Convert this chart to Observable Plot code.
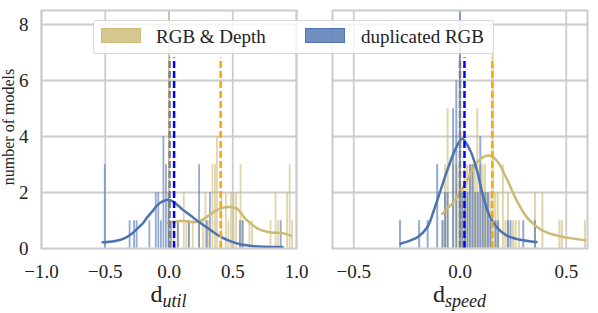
<!DOCTYPE html>
<html><head><meta charset="utf-8">
<script src="https://cdn.jsdelivr.net/npm/d3@7"></script>
<script src="https://cdn.jsdelivr.net/npm/@observablehq/plot@0.6"></script>
<style>
body{margin:0;background:#fff;}
#wrap{position:relative;width:598px;height:313px;overflow:hidden;font-family:'Liberation Serif','DejaVu Serif',serif;color:#222;}
.panel{position:absolute;top:0;}
#legend{position:absolute;left:93px;top:20px;width:401px;height:34px;box-sizing:border-box;background:rgba(255,255,255,0.8);border:1px solid #d6d6d6;border-radius:3px;z-index:5;}
.patch{position:absolute;top:7px;width:40px;height:15px;box-sizing:border-box;}
.ltext{position:absolute;top:5px;font-size:19px;line-height:22px;white-space:nowrap;}
</style>
</head><body>
<div id="wrap">
  <div id="left" class="panel"></div>
  <div id="right" class="panel" style="left:300px"></div>
  <div id="legend">
    <div class="patch" style="left:7px;background:rgba(204,185,116,0.8);border:1px solid rgba(204,185,116,0.9)"></div>
    <div class="ltext" style="left:62px">RGB &amp; Depth</div>
    <div class="patch" style="left:211px;background:rgba(76,114,176,0.8);border:1px solid rgba(76,114,176,0.9)"></div>
    <div class="ltext" style="left:267px">duplicated RGB</div>
  </div>
</div>
<script>
// ---------- data ----------
const TAN = "#CCB974", BLUE = "#4C72B0";
const utilBinWidth = 0.018, speedBinWidth = 0.0118;

// d_util histograms (bin centre, count)
const utilDepthX = [0.005, 0.04, 0.07, 0.12, 0.14, 0.16, 0.19, 0.24, 0.27, 0.29, 0.31, 0.345, 0.365, 0.38, 0.415, 0.45, 0.47, 0.49, 0.51, 0.53, 0.565, 0.585, 0.635, 0.655, 0.80, 0.84, 0.86, 0.93, 0.95, 0.97];
const utilDepthC = [10, 1, 1, 2, 1, 1, 1, 1, 1, 2, 1, 3, 3, 4, 2, 2, 1, 2, 2, 2, 3, 1, 1, 1, 1, 2, 1, 2, 3, 1];
const utilDupX = [-0.50, -0.305, -0.27, -0.25, -0.15, -0.10, -0.08, -0.06, -0.04, -0.02, 0.0, 0.02, 0.075, 0.16, 0.24, 0.30, 0.325, 0.56, 0.58, 0.88];
const utilDupC = [3, 1, 1, 1, 1, 2, 2, 1, 4, 3, 2, 1, 1, 1, 3, 1, 2, 1, 1, 1];

// d_speed histograms (bin centre, count)
const speedDepthX = [-0.08, -0.068, -0.056, -0.03, -0.015, 0.0, 0.012, 0.024, 0.036, 0.048, 0.06, 0.072, 0.084, 0.096, 0.108, 0.12, 0.132, 0.144, 0.156, 0.168, 0.18, 0.204, 0.216, 0.228, 0.252, 0.264, 0.28, 0.355, 0.39, 0.47, 0.482, 0.59];
const speedDepthC = [1, 3, 5, 3, 3, 3, 2, 3, 3, 3, 3, 3, 5, 3, 3, 3, 2, 2, 7, 2, 2, 3, 1, 2, 1, 1, 1, 2, 2, 1, 1, 1];
const speedDupX = [-0.28, -0.19, -0.15, -0.105, -0.08, -0.068, -0.056, -0.03, -0.015, 0.002, 0.014, 0.026, 0.038, 0.05, 0.062, 0.074, 0.086, 0.098, 0.11, 0.122, 0.134, 0.146, 0.17, 0.182, 0.228, 0.24, 0.30, 0.355];
const speedDupC = [1, 1, 1, 3, 1, 2, 2, 5, 6, 10, 2, 2, 2, 3, 3, 2, 2, 4, 2, 2, 2, 1, 1, 1, 1, 1, 1, 1];

// KDE curves
const utilDepthKdeX = [-0.014, 0.04, 0.09, 0.14, 0.195, 0.24, 0.273, 0.31, 0.35, 0.40, 0.456, 0.49, 0.535, 0.595, 0.65, 0.70, 0.75, 0.80, 0.85, 0.90, 0.958];
const utilDepthKdeY = [0.9, 0.95, 0.98, 0.97, 0.94, 0.98, 1.06, 1.18, 1.3, 1.42, 1.48, 1.48, 1.42, 1.08, 0.86, 0.70, 0.62, 0.57, 0.56, 0.54, 0.45];
const utilDupKdeX = [-0.52, -0.43, -0.355, -0.30, -0.25, -0.20, -0.17, -0.13, -0.093, -0.05, -0.009, 0.03, 0.064, 0.11, 0.169, 0.23, 0.30, 0.39, 0.47, 0.56, 0.65, 0.75, 0.89];
const utilDupKdeY = [0.22, 0.26, 0.35, 0.5, 0.70, 0.93, 1.12, 1.33, 1.54, 1.68, 1.74, 1.68, 1.56, 1.38, 1.18, 0.96, 0.74, 0.46, 0.28, 0.15, 0.09, 0.06, 0.05];
const speedDepthKdeX = [-0.084, -0.05, -0.013, 0.034, 0.08, 0.134, 0.173, 0.22, 0.267, 0.314, 0.354, 0.394, 0.457, 0.52, 0.59];
const speedDepthKdeY = [1.24, 1.5, 1.83, 2.43, 3.08, 3.32, 3.14, 2.49, 1.71, 1.12, 0.82, 0.62, 0.46, 0.37, 0.29];
const speedDupKdeX = [-0.28, -0.233, -0.2, -0.154, -0.123, -0.092, -0.06, -0.021, 0.01, 0.048, 0.08, 0.11, 0.142, 0.173, 0.22, 0.283, 0.36];
const speedDupKdeY = [0.17, 0.29, 0.4, 0.76, 1.36, 2.07, 2.79, 3.56, 3.92, 3.5, 2.79, 1.83, 1.12, 0.76, 0.46, 0.31, 0.23];

// reference lines (x position, colour)
const utilRefX = [0.005, 0.04, 0.405];
const speedRefX = [0.0, 0.021, 0.152];
const refColors = ["#808080", "#0000ff", "#ffa500"];
const refTop = 6.8;

const utilTicks = [-1.0, -0.5, 0.0, 0.5, 1.0];
const speedTicks = [-0.5, 0.0, 0.5];
const yTicks = [0, 2, 4, 6, 8];
const yLabel = "number of models";

// ---------- drawing ----------
const FONT = "'Liberation Serif','DejaVu Serif',serif";
const rows = (xs, cs) => xs.map((x, i) => ({x, c: cs[i]}));
const pts = (xs, ys) => xs.map((x, i) => ({x, y: ys[i]}));

function panel(o) {
  const w = o.binW;
  const barOpts = (fill) => ({x1: d => d.x - w / 2, x2: d => d.x + w / 2, y: "c", fill, fillOpacity: 0.6, inset: 0.25, clip: true});
  const refs = o.refX.map((x, i) => Plot.ruleX([x], {y1: 0, y2: refTop, stroke: refColors[i], strokeWidth: 2.5, strokeDasharray: "7,3"}));
  const svg = Plot.plot({
    width: o.width, height: 313,
    marginTop: 10, marginBottom: 65, marginLeft: o.ml, marginRight: o.mr,
    style: {fontFamily: FONT, fontSize: "19px", color: "#222", background: "transparent", overflow: "visible"},
    x: {domain: o.domain, ticks: o.ticks, tickFormat: d3.format(".1f"), label: null, tickSize: 0, tickPadding: 16},
    y: {domain: [0, 8.5], ticks: yTicks, label: null, tickSize: 0, tickPadding: 13, axis: o.showY ? "left" : null},
    marks: [
      Plot.gridX(o.ticks, {stroke: "#cccccc", strokeOpacity: 1, strokeWidth: 1.8}),
      Plot.gridY(yTicks.slice(1), {stroke: "#cccccc", strokeOpacity: 1, strokeWidth: 1.8}),
      Plot.rectY(rows(o.depthX, o.depthC), barOpts(TAN)),
      Plot.rectY(rows(o.dupX, o.dupC), barOpts(BLUE)),
      Plot.line(pts(o.depthKX, o.depthKY), {x: "x", y: "y", stroke: TAN, strokeWidth: 2.5, curve: "catmull-rom"}),
      Plot.line(pts(o.dupKX, o.dupKY), {x: "x", y: "y", stroke: BLUE, strokeWidth: 2.5, curve: "catmull-rom"}),
      ...refs,
      Plot.frame({stroke: "#cccccc", strokeWidth: 2})
    ]
  });
  const sel = d3.select(svg);
  const cx = o.ml + (o.width - o.ml - o.mr) / 2;
  const t = sel.append("text")
    .attr("x", cx).attr("y", 302).attr("text-anchor", "middle")
    .attr("fill", "#222").style("font-family", FONT);
  t.append("tspan").text("d").style("font-size", "24px");
  t.append("tspan").text(o.sub).attr("dy", 5).style("font-size", "18px").style("font-style", "italic");
  if (o.showY) {
    sel.append("text")
      .attr("transform", "translate(14,127) rotate(-90)")
      .attr("text-anchor", "middle").attr("fill", "#222")
      .style("font-family", FONT).style("font-size", "16px")
      .text(yLabel);
  }
  return svg;
}

document.getElementById("left").appendChild(panel({
  width: 300, ml: 41, mr: 4, domain: [-1, 1], ticks: utilTicks, binW: utilBinWidth, showY: true,
  depthX: utilDepthX, depthC: utilDepthC, dupX: utilDupX, dupC: utilDupC,
  depthKX: utilDepthKdeX, depthKY: utilDepthKdeY, dupKX: utilDupKdeX, dupKY: utilDupKdeY,
  refX: utilRefX, sub: "util"
}));
document.getElementById("right").appendChild(panel({
  width: 298, ml: 32, mr: 11, domain: [-0.6, 0.6], ticks: speedTicks, binW: speedBinWidth, showY: false,
  depthX: speedDepthX, depthC: speedDepthC, dupX: speedDupX, dupC: speedDupC,
  depthKX: speedDepthKdeX, depthKY: speedDepthKdeY, dupKX: speedDupKdeX, dupKY: speedDupKdeY,
  refX: speedRefX, sub: "speed"
}));
</script>
</body></html>
